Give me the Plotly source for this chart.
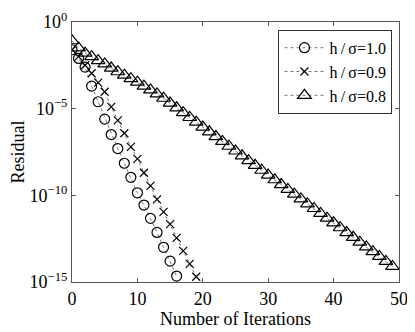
import plotly.graph_objects as go

# Residual per iteration (log scale)
iters_10 = list(range(17))
res_10 = [2.5e-2, 7.9e-3, 2.5e-3, 2.0e-4, 2.5e-5, 2.5e-6, 3.2e-7, 5.0e-8, 7.1e-9,
          1.1e-9, 1.4e-10, 2.75e-11, 4.7e-12, 7.2e-13, 1.0e-13, 1.6e-14, 2.2e-15]

iters_09 = list(range(20))
res_09 = [2.5e-2, 1.0e-2, 3.2e-3, 1.1e-3, 3.2e-4, 9.5e-5, 1.26e-5, 2.1e-6, 3.8e-7,
          6.3e-8, 1.26e-8, 2.0e-9, 3.5e-10, 5.9e-11, 1.12e-11, 2.2e-12, 3.5e-13,
          6.3e-14, 1.1e-14, 2.0e-15]

iters_08 = list(range(50))
res_08 = [8.3e-2, 3.2e-2, 1.6e-2, 1.0e-2, 5.9e-3, 3.8e-3, 2.2e-3, 1.35e-3, 8.5e-4,
          5.4e-4, 3.4e-4, 2.0e-4, 1.2e-4, 7.1e-5, 4.0e-5, 2.1e-5, 1.12e-5, 5.9e-6,
          3.1e-6, 1.66e-6, 8.7e-7, 4.6e-7, 2.45e-7, 1.29e-7, 6.8e-8, 3.6e-8, 1.9e-8,
          1.0e-8, 5.4e-9, 2.8e-9, 1.48e-9, 7.9e-10, 4.2e-10, 2.2e-10, 1.17e-10,
          6.2e-11, 3.2e-11, 1.74e-11, 9.1e-12, 4.8e-12, 2.6e-12, 1.35e-12, 7.1e-13,
          3.8e-13, 2.0e-13, 1.05e-13, 5.6e-14, 3.0e-14, 1.55e-14, 7.9e-15]

names = ["h\u2009/\u2009σ=1.0", "h\u2009/\u2009σ=0.9", "h\u2009/\u2009σ=0.8"]
ytick_vals = [1e0, 1e-5, 1e-10, 1e-15]
ytick_text = ["10<sup>0</sup>", "10<sup>−5</sup>", "10<sup>−10</sup>", "10<sup>−15</sup>"]

font = "Liberation Serif"

series = [
    (iters_10, res_10, names[0], dict(symbol="circle-open", size=10)),
    (iters_09, res_09, names[1], dict(symbol="x-thin-open", size=8)),
    (iters_08, res_08, names[2], dict(symbol="triangle-up-open", size=12)),
]

fig = go.Figure()
for x, y, name, mk in series:
    fig.add_trace(go.Scatter(
        x=x, y=y, name=name, mode="lines+markers",
        line=dict(color="#777", width=1, dash="dot"),
        marker=dict(color="black", line=dict(color="black", width=1.2), **mk),
    ))

axis_common = dict(
    showline=True, linecolor="#555", linewidth=1.2, mirror="ticks",
    ticks="inside", ticklen=4, tickcolor="#555", showgrid=False, zeroline=False,
    tickfont=dict(size=18, color="black", family=font), automargin=False,
)

# page body has an 8px margin, so the figure is sized to fit the 415x332 window
fig.update_layout(
    width=407, height=324,
    margin=dict(l=64, r=16, t=14, b=50),
    paper_bgcolor="white", plot_bgcolor="white",
    font=dict(family=font, size=18, color="black"),
    xaxis=dict(range=[0, 50], tickvals=[0, 10, 20, 30, 40, 50],
               title=dict(text="Number of Iterations", standoff=0, font=dict(size=18)),
               **axis_common),
    yaxis=dict(type="log", range=[-15, 0], tickvals=ytick_vals, ticktext=ytick_text,
               title=dict(text="Residual", standoff=0, font=dict(size=18)),
               **axis_common),
    legend=dict(x=0.98, y=0.97, xanchor="right", yanchor="top",
                bgcolor="white", bordercolor="#333", borderwidth=1,
                font=dict(size=16), tracegroupgap=0, itemwidth=40),
    showlegend=True,
)

fig.write_html("out.html")
